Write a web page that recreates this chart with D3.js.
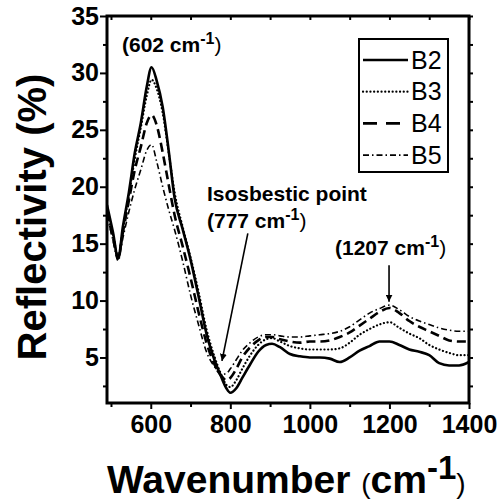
<!DOCTYPE html>
<html>
<head>
<meta charset="utf-8">
<script src="https://cdn.jsdelivr.net/npm/d3@7"></script>
<style>
	body { margin: 0; background: #fff; }
	svg { display: block; font-family: "Liberation Sans", Arial, sans-serif; }
</style>
</head>
<body>
<div id="chart"></div>
<script>

// Data

var wavenumber = [490, 505, 518, 530, 545, 560, 575, 590, 602, 615, 630, 645, 660, 680, 700, 720, 740, 760, 777, 790, 800,
	815, 830, 850, 870, 890, 905, 925, 950, 975, 1000, 1025, 1050, 1075, 1100, 1125, 1150, 1175, 1200, 1225, 1250, 1275,
	1300, 1325, 1350, 1375, 1400];

var b2 = [18.4, 16.0, 13.7, 16.5, 19.5, 23.0, 25.6, 28.8, 30.5, 29.3, 27.0, 23.2, 19.0, 16.3, 13.6, 10.4, 7.1, 4.8, 3.3, 2.3, 1.9,
	2.3, 3.2, 4.4, 5.5, 6.1, 6.2, 5.9, 5.3, 5.1, 5.0, 5.0, 4.9, 4.6, 5.0, 5.6, 6.0, 6.4, 6.4, 6.1, 5.7,
	5.5, 5.2, 4.5, 4.3, 4.3, 4.6];
var b3 = [18.0, 15.8, 13.9, 16.3, 19.2, 22.5, 25.2, 28.0, 29.4, 28.6, 26.5, 23.0, 19.5, 16.5, 13.8, 10.8, 7.5, 5.1, 3.5, 2.6, 2.4,
	3.0, 4.0, 5.2, 6.1, 6.6, 6.7, 6.4, 6.0, 5.8, 5.7, 5.7, 5.7, 5.8, 6.3, 7.0, 7.5, 7.9, 8.1, 7.6, 7.1,
	6.7, 6.1, 5.7, 5.4, 5.2, 5.2];
var b4 = [17.8, 15.5, 13.8, 16.0, 18.8, 21.5, 23.5, 25.6, 26.3, 25.4, 23.0, 20.2, 17.5, 14.8, 12.0, 9.0, 6.3, 4.4, 3.4, 3.0, 3.2,
	4.0, 5.0, 5.9, 6.5, 6.8, 6.8, 6.6, 6.4, 6.3, 6.4, 6.4, 6.5, 6.8, 7.2, 7.8, 8.4, 9.0, 9.35, 8.9, 8.2,
	7.7, 7.3, 6.9, 6.5, 6.4, 6.4];
var b5 = [17.5, 15.3, 13.5, 15.5, 17.8, 19.8, 21.5, 23.2, 23.7, 22.2, 20.0, 18.0, 16.2, 13.5, 10.5, 7.9, 5.5, 4.2, 3.5, 3.6, 4.0,
	4.8, 5.6, 6.3, 6.8, 7.0, 7.0, 6.9, 6.8, 6.8, 6.9, 7.0, 7.1, 7.3, 7.7, 8.3, 8.9, 9.3, 9.6, 9.2, 8.6,
	8.2, 7.9, 7.6, 7.4, 7.3, 7.3];

var seriesNames = ['B2', 'B3', 'B4', 'B5'];
var xTicks = [600, 800, 1000, 1200, 1400];
var xMinorTicks = [500, 700, 900, 1100, 1300];
var yTicks = [5, 10, 15, 20, 25, 30, 35];
var yMinorTicks = [2.5, 7.5, 12.5, 17.5, 22.5, 27.5, 32.5];

// Layout

var
	width = 497,
	height = 504,
	margin = {top: 16, right: 28, bottom: 101, left: 107},
	plotW = width - margin.left - margin.right,
	plotH = height - margin.top - margin.bottom,

	x = d3.scaleLinear().domain([490, 1400]).range([0, plotW]),
	y = d3.scaleLinear().domain([1, 35]).range([plotH, 0]),

	svg = d3.select('#chart').append('svg')
		.attr('width', width)
		.attr('height', height),

	g = svg.append('g')
		.attr('transform', 'translate(' + margin.left + ',' + margin.top + ')');

svg.append('defs').append('clipPath')
	.attr('id', 'plotclip')
	.append('rect')
	.attr('width', plotW)
	.attr('height', plotH);

svg.select('defs').append('marker')
	.attr('id', 'head')
	.attr('viewBox', '0 0 10 10')
	.attr('refX', 10)
	.attr('refY', 5)
	.attr('markerWidth', 7)
	.attr('markerHeight', 7)
	.attr('markerUnits', 'userSpaceOnUse')
	.attr('orient', 'auto')
	.append('path')
	.attr('d', 'M0,0 L10,5 L0,10 z')
	.style('fill', '#000');

// Lines

var styles = [
	{width: 2.6, dash: null, cap: 'butt'},
	{width: 2.2, dash: '0.1,3.6', cap: 'round'},
	{width: 2.6, dash: '9,5', cap: 'butt'},
	{width: 1.6, dash: '6,3,1.5,3', cap: 'butt'}
];

var series = [b2, b3, b4, b5].map(function(vals, i) {
	return {name: seriesNames[i], style: styles[i], points: wavenumber.map(function(w, j) {return [w, vals[j]];})};
});

var line = d3.line()
	.x(function(d) {return x(d[0]);})
	.y(function(d) {return y(d[1]);})
	.curve(d3.curveMonotoneX);

g.append('g')
	.attr('clip-path', 'url(#plotclip)')
	.selectAll('path')
	.data(series)
	.enter()
	.append('path')
	.attr('d', function(d) {return line(d.points);})
	.style('fill', 'none')
	.style('stroke', '#000')
	.style('stroke-width', function(d) {return d.style.width;})
	.style('stroke-dasharray', function(d) {return d.style.dash;})
	.style('stroke-linecap', function(d) {return d.style.cap;})
	.style('stroke-linejoin', 'round');

// Axes

function styleAxis(sel) {
	sel.select('.domain').remove();
	sel.selectAll('line').style('stroke', '#000').style('stroke-width', 2);
	sel.selectAll('text')
		.style('font-size', '25px')
		.style('font-weight', 'bold')
		.style('fill', '#000');
}

g.append('g')
	.attr('transform', 'translate(0,' + plotH + ')')
	.call(d3.axisBottom(x).tickValues(xTicks).tickSize(6).tickPadding(6).tickFormat(d3.format('d')))
	.call(styleAxis);

g.append('g')
	.attr('transform', 'translate(0,' + plotH + ')')
	.call(d3.axisBottom(x).tickValues(xMinorTicks).tickSize(4).tickFormat(''))
	.call(styleAxis);

g.append('g')
	.call(d3.axisLeft(y).tickValues(yTicks).tickSize(7).tickPadding(1))
	.call(styleAxis);

g.append('g')
	.call(d3.axisLeft(y).tickValues(yMinorTicks).tickSize(4).tickFormat(''))
	.call(styleAxis);

g.append('g')
	.call(d3.axisTop(x).tickValues(xTicks.concat(xMinorTicks)).tickSize(-4).tickFormat(''))
	.call(styleAxis);

g.append('g')
	.attr('transform', 'translate(' + plotW + ',0)')
	.call(d3.axisRight(y).tickValues(yTicks.concat(yMinorTicks)).tickSize(4).tickFormat(''))
	.call(styleAxis);

g.append('rect')
	.attr('width', plotW)
	.attr('height', plotH)
	.style('fill', 'none')
	.style('stroke', '#000')
	.style('stroke-width', 3);

// Axis titles

var xTitle = svg.append('text')
	.attr('x', margin.left)
	.attr('y', 493)
	.style('font-size', '39px')
	.style('font-weight', 'bold');
xTitle.append('tspan').text('Wavenumber ');
xTitle.append('tspan').style('font-weight', 'normal').style('font-size', '28px').text('(');
xTitle.append('tspan').text('cm');
xTitle.append('tspan').attr('dy', -14).style('font-size', '33px').text('-1');
xTitle.append('tspan').attr('dy', 14).style('font-weight', 'normal').style('font-size', '28px').text(')');

svg.append('text')
	.attr('transform', 'translate(46,217) rotate(-90)')
	.attr('text-anchor', 'middle')
	.style('font-size', '40px')
	.style('font-weight', 'bold')
	.text('Reflectivity (%)');

// Annotations

function label(px, py, pre) {
	var t = svg.append('text')
		.attr('x', px)
		.attr('y', py)
		.style('font-size', '21px')
		.style('font-weight', 'bold');
	t.append('tspan').text(pre + ' cm');
	t.append('tspan').attr('dy', -8).style('font-size', '16px').text('-1');
	t.append('tspan').attr('dy', 8).style('font-weight', 'normal').text(')');
	return t;
}

label(122, 52, '(602');
label(207, 228, '(777');
label(335, 255, '(1207');

svg.append('text')
	.attr('x', 207)
	.attr('y', 201)
	.style('font-size', '21px')
	.style('font-weight', 'bold')
	.text('Isosbestic point');

var arrows = [
	{from: [844, 15.9], to: [779, 4.7]},
	{from: [1199, 13.1], to: [1199, 9.9]}
];

g.selectAll('line.arrow')
	.data(arrows)
	.enter()
	.append('line')
	.attr('class', 'arrow')
	.attr('x1', function(d) {return x(d.from[0]);})
	.attr('y1', function(d) {return y(d.from[1]);})
	.attr('x2', function(d) {return x(d.to[0]);})
	.attr('y2', function(d) {return y(d.to[1]);})
	.style('stroke', '#000')
	.style('stroke-width', 1.6)
	.attr('marker-end', 'url(#head)');

// Legend

var legend = svg.append('g').attr('transform', 'translate(359,39)');

legend.append('rect')
	.attr('width', 89)
	.attr('height', 133)
	.style('fill', '#fff')
	.style('stroke', '#000')
	.style('stroke-width', 2);

var items = legend.selectAll('g.item')
	.data(series)
	.enter()
	.append('g')
	.attr('class', 'item')
	.attr('transform', function(d, i) {return 'translate(0,' + (21 + i * 31.7) + ')';});

items.append('line')
	.attr('x1', 4)
	.attr('x2', 49)
	.style('stroke', '#000')
	.style('stroke-width', function(d) {return d.style.width;})
	.style('stroke-dasharray', function(d, i) {return i === 2 ? '14,9' : d.style.dash;})
	.style('stroke-linecap', function(d) {return d.style.cap;});

items.append('text')
	.attr('x', 52)
	.attr('dy', '0.35em')
	.style('font-size', '25px')
	.text(function(d) {return d.name;});

</script>
</body>
</html>
